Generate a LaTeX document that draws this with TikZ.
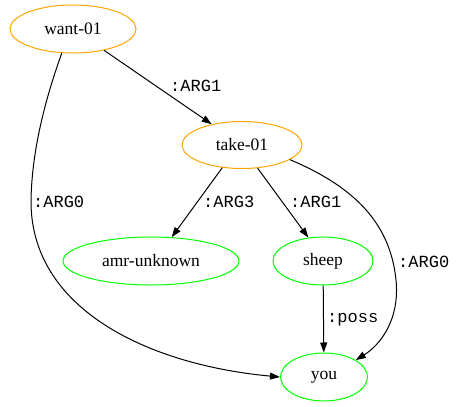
\documentclass[tikz,border=0pt]{standalone}
\usepackage{fontspec}
\setmainfont{Liberation Serif}
\newfontfamily\lblfont{Liberation Mono}
\usetikzlibrary{shapes.geometric,arrows.meta}
\definecolor{gvorange}{HTML}{FFA500}
\definecolor{gvgreen}{HTML}{00FF00}
\begin{document}
\begin{tikzpicture}[x=1pt,y=-1pt,
  concept/.style={ellipse,draw=gvorange,line width=1pt,inner sep=0pt,font=\fontsize{17.5pt}{19pt}\selectfont},
  leaf/.style={ellipse,draw=gvgreen,line width=1pt,inner sep=0pt,font=\fontsize{17.5pt}{19pt}\selectfont},
  edge/.style={draw=black,line width=1pt,-{Triangle[length=10pt,width=7pt]}},
  lbl/.style={anchor=west,inner sep=0pt,font=\lblfont\fontsize{17pt}{19pt}\selectfont}]
\useasboundingbox (0,0) rectangle (458,407);
\node[concept,minimum width=126pt,minimum height=48pt] (want) at (73,29) {want-01};
\node[concept,minimum width=120pt,minimum height=47pt] (take) at (242,145) {take-01};
\node[leaf,minimum width=176pt,minimum height=48pt] (amr) at (151,261) {amr-unknown};
\node[leaf,minimum width=100pt,minimum height=48pt] (sheep) at (323,261) {sheep};
\node[leaf,minimum width=87pt,minimum height=48pt] (you) at (324,377) {you};
\draw[edge] (want) -- (take);
\draw[edge] (want.-115) .. controls (45,100) and (32,150) .. (31,200) .. controls (30,310) and (150,365) .. (you.180);
\draw[edge] (take.-131) -- (amr.49);
\draw[edge] (take.-56) -- (sheep.122);
\draw[edge] (take.-17) .. controls (350,185) and (390,220) .. (396,280) .. controls (400,320) and (380,345) .. (you.28);
\draw[edge] (sheep) -- (you);
\node[lbl] (l1) at (170,86) {:ARG1};
\node[lbl] (l2) at (33,202) {:ARG0};
\node[lbl] (l3) at (203,202) {:ARG3};
\node[lbl] (l4) at (290,202) {:ARG1};
\node[lbl] (l5) at (398,262) {:ARG0};
\node[lbl] (l6) at (327,320) {:poss};
\end{tikzpicture}
\end{document}
